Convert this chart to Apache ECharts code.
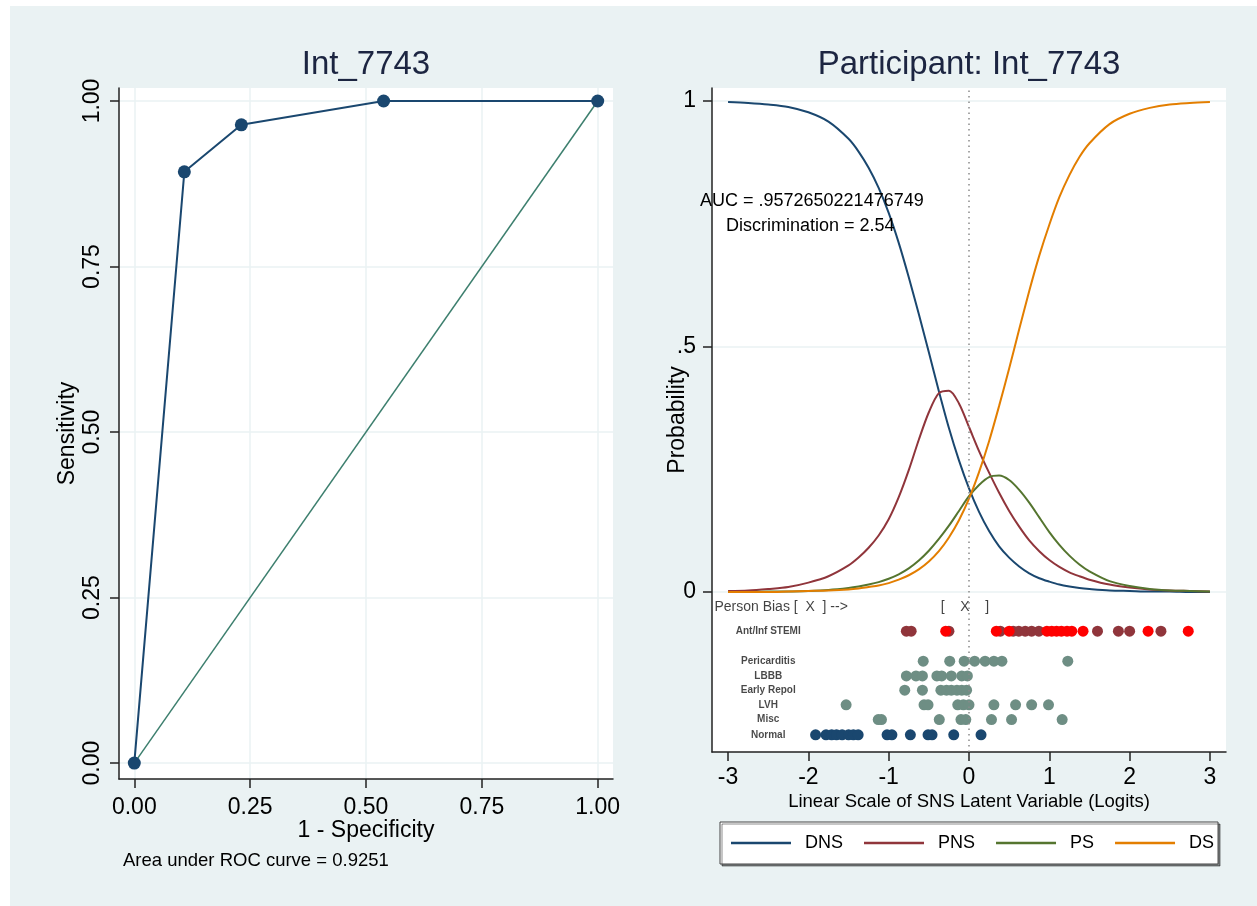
<!DOCTYPE html>
<html>
<head>
<meta charset="utf-8">
<title>Int_7743</title>
<script src="https://cdn.jsdelivr.net/npm/echarts@6.0.0/dist/echarts.min.js"></script>
<style>
  html, body { margin: 0; padding: 0; background: #fff; }
  #bg { position: absolute; left: 10px; top: 6px; width: 1247px; height: 900px; background: #eaf2f3; }
  #chart { position: absolute; left: 0; top: 0; width: 1257px; height: 906px; }
</style>
</head>
<body>
<div id="bg"></div>
<div id="chart"></div>
<script>
// ROC points (1 - specificity, sensitivity)
const rocFpr = [0, 0.108, 0.231, 0.538, 1];
const rocTpr = [0, 0.893, 0.964, 1, 1];
const refFpr = [0, 1];
const refTpr = [0, 1];

// category probability curves (finer steps in the middle)
const theta = [-3, -2.75, -2.5, -2.25, -2, -1.75, -1.5, -1.375, -1.25, -1.125, -1, -0.875, -0.75, -0.625, -0.5, -0.375, -0.25, -0.125,
               0, 0.125, 0.25, 0.375, 0.5, 0.625, 0.75, 0.875, 1, 1.125, 1.25, 1.375, 1.5, 1.75, 2, 2.25, 2.5, 2.75, 3];
const dns = [0.998, 0.996, 0.993, 0.988, 0.977, 0.958, 0.923, 0.897, 0.864, 0.823, 0.772, 0.711, 0.641, 0.566, 0.488, 0.409, 0.334, 0.268,
             0.211, 0.163, 0.124, 0.093, 0.070, 0.052, 0.038, 0.028, 0.021, 0.015, 0.011, 0.008, 0.006, 0.003, 0.002, 0.001, 0.001, 0.000, 0.000];
const pns = [0.002, 0.003, 0.006, 0.010, 0.019, 0.032, 0.054, 0.070, 0.090, 0.115, 0.148, 0.193, 0.248, 0.310, 0.366, 0.405, 0.410, 0.384,
             0.336, 0.287, 0.243, 0.202, 0.165, 0.133, 0.105, 0.083, 0.065, 0.051, 0.040, 0.032, 0.025, 0.015, 0.009, 0.005, 0.003, 0.002, 0.001];
const ps = [0.000, 0.000, 0.001, 0.001, 0.002, 0.004, 0.008, 0.011, 0.015, 0.020, 0.027, 0.036, 0.048, 0.064, 0.084, 0.108, 0.135, 0.165,
            0.195, 0.218, 0.234, 0.237, 0.228, 0.208, 0.182, 0.152, 0.122, 0.096, 0.074, 0.056, 0.042, 0.022, 0.012, 0.006, 0.003, 0.002, 0.001];
const ds = [0.000, 0.000, 0.000, 0.001, 0.002, 0.003, 0.005, 0.007, 0.010, 0.013, 0.018, 0.025, 0.034, 0.046, 0.062, 0.083, 0.111, 0.146,
            0.190, 0.244, 0.307, 0.379, 0.455, 0.535, 0.613, 0.685, 0.748, 0.804, 0.849, 0.886, 0.914, 0.953, 0.974, 0.986, 0.993, 0.996, 0.998];

// person ratings by diagnosis (logits)
const rowNames = ['Ant/Inf STEMI', 'Pericarditis', 'LBBB', 'Early Repol', 'LVH', 'Misc', 'Normal'];
const rowLevels = [-0.08, -0.141, -0.171, -0.20, -0.23, -0.26, -0.291];
const stemiMaroon = [-0.78, -0.72, -0.25, 0.39, 0.55, 0.62, 0.70, 0.78, 0.87, 1.60, 1.86, 2.00, 2.39];
const stemiRed = [-0.29, 0.34, 0.50, 0.97, 1.03, 1.09, 1.15, 1.22, 1.28, 1.42, 2.23, 2.73];
const pericarditis = [-0.57, -0.24, -0.06, 0.07, 0.20, 0.31, 0.41, 1.23];
const lbbb = [-0.78, -0.66, -0.58, -0.40, -0.34, -0.22, -0.09, -0.02];
const earlyRepol = [-0.80, -0.58, -0.35, -0.28, -0.22, -0.15, -0.09, -0.03];
const lvh = [-1.53, -0.56, -0.51, -0.14, -0.07, 0.00, 0.31, 0.58, 0.78, 0.99];
const misc = [-1.13, -1.09, -0.37, -0.10, -0.04, 0.28, 0.53, 1.16];
const normal = [-1.91, -1.78, -1.71, -1.65, -1.58, -1.50, -1.44, -1.38, -1.02, -0.96, -0.73, -0.51, -0.46, -0.19, 0.15];

// tick labels
const rocTicks = [0, 0.25, 0.5, 0.75, 1];
const logitTicks = [-3, -2, -1, 0, 1, 2, 3];
const probTicks = [0, 0.5, 1];
const biasLevel = -0.031;

const FONT = '"Liberation Sans", Arial, sans-serif';
const NAVY = '#1a476f';
const MAROON = '#90353b';
const GREEN = '#55752f';
const ORANGE = '#e37e00';
const TEAL = '#6e8e84';
const GRIDC = '#eaf2f3';

document.addEventListener('DOMContentLoaded', function() {
    initChart();
});

function pairs(xs, ys) {
    return xs.map((x, i) => [x, ys[i]]);
}

function row(xs, level) {
    return xs.map(x => [x, level]);
}

// shared Stata-like axis look
function axisBase(ticks, fmt) {
    return {
        type: 'value',
        axisLine: { show: true, onZero: false, lineStyle: { color: '#222', width: 1.5 } },
        axisTick: { show: true, length: 9, inside: false, customValues: ticks, lineStyle: { color: '#222', width: 1.5 } },
        axisLabel: { customValues: ticks, formatter: fmt, color: '#000', fontSize: 23, fontFamily: FONT },
        nameTextStyle: { color: '#000', fontFamily: FONT },
        nameLocation: 'middle',
        nameMoveOverlap: false
    };
}

function initChart() {
    const chart = echarts.init(document.getElementById('chart'), null, { renderer: 'canvas' });

    const xRoc = Object.assign(axisBase(rocTicks, v => v.toFixed(2)), {
        gridIndex: 0, min: -0.033, max: 1.033,
        splitLine: { show: true, lineStyle: { color: GRIDC, width: 1.5 } },
        name: '1 - Specificity', nameGap: 40
    });
    xRoc.axisLabel.margin = 17;
    xRoc.nameTextStyle.fontSize = 23;

    const yRoc = Object.assign(axisBase(rocTicks, v => v.toFixed(2)), {
        gridIndex: 0, min: -0.024, max: 1.0196,
        splitLine: { show: true, lineStyle: { color: GRIDC, width: 1.5 } },
        name: 'Sensitivity', nameGap: 40, nameRotate: 90
    });
    yRoc.axisLabel.rotate = 90;
    yRoc.axisLabel.margin = 15;
    yRoc.nameTextStyle.fontSize = 23;

    const xLog = Object.assign(axisBase(logitTicks, v => String(v)), {
        gridIndex: 1, min: -3.2, max: 3.2,
        splitLine: { show: false },
        name: 'Linear Scale of SNS Latent Variable (Logits)', nameGap: 40
    });
    xLog.axisLabel.margin = 14;
    xLog.nameTextStyle.fontSize = 18.5;

    const yProb = Object.assign(axisBase(probTicks, v => v === 0.5 ? '.5' : String(v)), {
        gridIndex: 1, min: -0.326, max: 1.0265,
        splitLine: { show: true, lineStyle: { color: GRIDC, width: 1.5 } },
        name: 'Probability', nameGap: 23, nameRotate: 90
    });
    yProb.axisLabel.margin = 16;
    yProb.nameTextStyle.fontSize = 23;

    const curve = (name, data, color, withLine) => {
        const s = {
            name: name, type: 'line', xAxisIndex: 1, yAxisIndex: 1,
            data: pairs(theta, data), showSymbol: false, symbol: 'none',
            smooth: 0.3,
            lineStyle: { color: color, width: 2 }, itemStyle: { color: color },
            silent: true, z: 3
        };
        if (withLine) {
            // dotted reference at zero logits
            s.markLine = {
                silent: true, symbol: 'none', label: { show: false },
                lineStyle: { color: '#8a8a8a', type: [1.5, 4], width: 1.5 },
                data: [{ xAxis: 0 }]
            };
        }
        return s;
    };

    const dots = (data, color) => ({
        type: 'scatter', xAxisIndex: 1, yAxisIndex: 1, data: data,
        symbol: 'circle', symbolSize: 11, itemStyle: { color: color, opacity: 1 },
        silent: true, z: 4
    });

    // row labels and the person-bias header, placed through the logit scale
    const labelData = rowNames.map((n, i) => [-2.5, rowLevels[i], n]);
    const labelSeries = {
        type: 'scatter', xAxisIndex: 1, yAxisIndex: 1, data: labelData,
        symbolSize: 1, itemStyle: { color: 'rgba(0,0,0,0)' }, silent: true,
        label: {
            show: true, position: 'inside', formatter: p => p.value[2],
            color: '#1a1a1a', fontSize: 10, fontWeight: 'bold', fontFamily: FONT
        }
    };
    const biasText = [[-3.17, biasLevel, 'Person Bias [  X  ] -->', 'left'], [-0.05, biasLevel, '[    X    ]', 'center']];
    const biasSeries = {
        type: 'scatter', xAxisIndex: 1, yAxisIndex: 1,
        data: biasText.map(d => ({ value: d, label: { align: d[3] } })),
        symbolSize: 1, itemStyle: { color: 'rgba(0,0,0,0)' }, silent: true,
        label: {
            show: true, position: 'inside', formatter: p => p.value[2],
            color: '#111', fontSize: 14, fontFamily: FONT
        }
    };

    const option = {
        animation: false,
        backgroundColor: 'transparent',
        textStyle: { fontFamily: FONT },
        grid: [
            { left: 119, top: 88, width: 494, height: 691, show: true, backgroundColor: '#fff', borderWidth: 0 },
            { left: 712, top: 88, width: 514, height: 664, show: true, backgroundColor: '#fff', borderWidth: 0 }
        ],
        xAxis: [xRoc, xLog],
        yAxis: [yRoc, yProb],
        legend: {
            data: ['DNS', 'PNS', 'PS', 'DS'],
            left: 720, top: 822,
            padding: [12, 4, 12, 11],
            itemGap: 21, itemWidth: 60, itemHeight: 2.5, icon: 'rect',
            backgroundColor: '#fff', borderColor: '#444', borderWidth: 1,
            shadowColor: 'rgba(0,0,0,0.45)', shadowOffsetX: 2, shadowOffsetY: 2, shadowBlur: 0,
            textStyle: { fontSize: 18, color: '#000', fontFamily: FONT, padding: [0, 0, 0, 9] },
            selectedMode: false
        },
        graphic: [
            { type: 'text', x: 366, y: 65, style: { text: 'Int_7743', fill: '#1c2541', font: '33px ' + FONT, align: 'center', verticalAlign: 'middle' } },
            { type: 'text', x: 969, y: 65, style: { text: 'Participant: Int_7743', fill: '#1c2541', font: '33px ' + FONT, align: 'center', verticalAlign: 'middle' } },
            { type: 'text', x: 123, y: 861, style: { text: 'Area under ROC curve = 0.9251', fill: '#000', font: '18.5px ' + FONT, align: 'left', verticalAlign: 'middle' } },
            { type: 'text', x: 700, y: 201, z: 10, style: { text: 'AUC = .9572650221476749', fill: '#000', font: '18px ' + FONT, align: 'left', verticalAlign: 'middle' } },
            { type: 'text', x: 726, y: 226, z: 10, style: { text: 'Discrimination = 2.54', fill: '#000', font: '18px ' + FONT, align: 'left', verticalAlign: 'middle' } }
        ],
        series: [
            {
                type: 'line', xAxisIndex: 0, yAxisIndex: 0, data: pairs(refFpr, refTpr),
                symbol: 'none', lineStyle: { color: '#3d7f6e', width: 1.5 }, silent: true, z: 2
            },
            {
                type: 'line', xAxisIndex: 0, yAxisIndex: 0, data: pairs(rocFpr, rocTpr),
                symbol: 'circle', symbolSize: 13, showSymbol: true,
                lineStyle: { color: NAVY, width: 2 }, itemStyle: { color: NAVY }, silent: true, z: 3
            },
            curve('DNS', dns, NAVY, true),
            curve('PNS', pns, MAROON, false),
            curve('PS', ps, GREEN, false),
            curve('DS', ds, ORANGE, false),
            dots(row(stemiMaroon, rowLevels[0]), MAROON),
            dots(row(stemiRed, rowLevels[0]), '#ff0000'),
            dots(row(pericarditis, rowLevels[1]), TEAL),
            dots(row(lbbb, rowLevels[2]), TEAL),
            dots(row(earlyRepol, rowLevels[3]), TEAL),
            dots(row(lvh, rowLevels[4]), TEAL),
            dots(row(misc, rowLevels[5]), TEAL),
            dots(row(normal, rowLevels[6]), NAVY),
            labelSeries,
            biasSeries
        ]
    };

    chart.setOption(option);
}
</script>
</body>
</html>
